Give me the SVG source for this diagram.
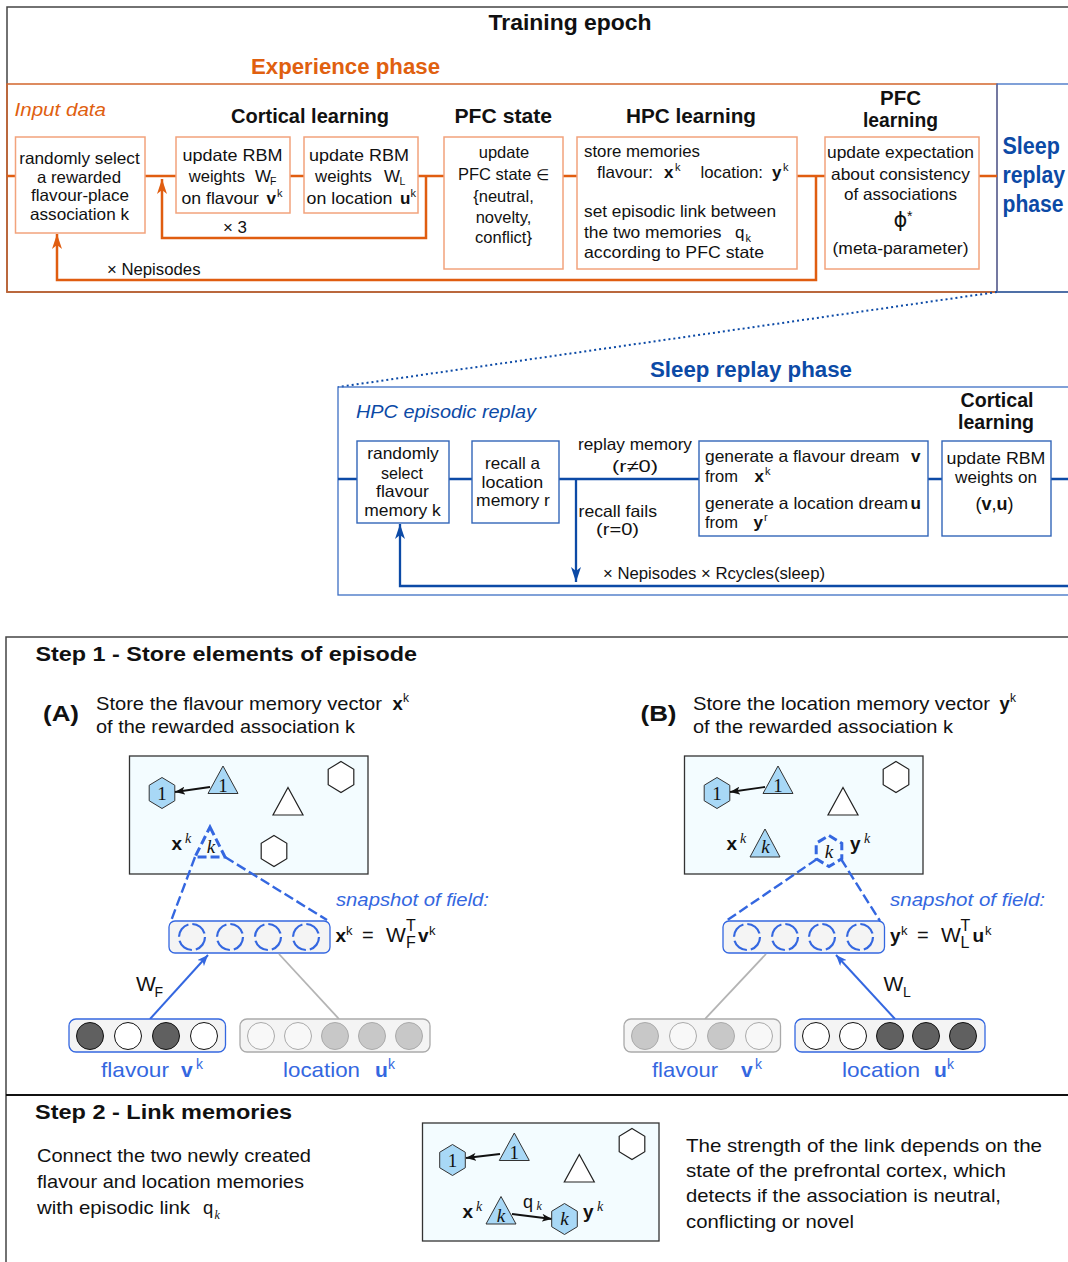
<svg xmlns="http://www.w3.org/2000/svg" width="1068" height="1262" viewBox="0 0 1068 1262">
<defs>
<style>
text{font-family:"Liberation Sans",Arial,sans-serif;fill:#111}
.b{font-weight:bold}
.i{font-style:italic}
.mi{font-family:"Liberation Serif","Times New Roman",serif;font-style:italic}
.mr{font-family:"Liberation Serif","Times New Roman",serif}
.or{fill:#e0600f}
.db{fill:#0c4aa6}
.fb{fill:#3467e0}
.c{text-anchor:middle}
.bx{font-size:16.5px}
.frame{fill:none;stroke:#444;stroke-width:1.5}
.expbox{fill:none;stroke:#d2652d;stroke-width:1.5}
.onode{fill:#fff;stroke:#f2a37c;stroke-width:1.5}
.ocon{fill:none;stroke:#e05d10;stroke-width:2.5}
.sbox{fill:none;stroke:#3d6fc4;stroke-width:1.3}
.bnode{fill:#fff;stroke:#3265b8;stroke-width:1.4}
.bcon{fill:none;stroke:#0c4aa6;stroke-width:2.3}
.field{fill:#f3fcff;stroke:#333;stroke-width:1.3}
.mem{fill:#a8d8f6;stroke:#333;stroke-width:1}
.emp{fill:#fff;stroke:#222;stroke-width:1.2}
.dsh{fill:none;stroke:#3467e0;stroke-width:2.4;stroke-dasharray:10 4}
.dshs{fill:none;stroke:#3467e0;stroke-width:3;stroke-dasharray:9 4}
.lay{fill:#f4f4f4;stroke-width:1.3}
.lb{stroke:#3467e0}
.lg{stroke:#aaa}
.un{stroke:#111;stroke-width:1}
.ug{stroke:#aaa;stroke-width:1}
.on{fill:#606060}
.off{fill:#fff}
.gon{fill:#c8c8c8}
.goff{fill:#f8f8f8}
.hid{fill:none;stroke:#3467e0;stroke-width:2.2;stroke-dasharray:16.4 4}
.farrow{fill:none;stroke:#3467e0;stroke-width:2}
.gline{fill:none;stroke:#b4b4b4;stroke-width:1.8}
.karrow{fill:none;stroke:#111;stroke-width:1.8}
</style>
<path id="hex" d="M0,-15.5 L12.8,-7.75 L12.8,7.75 L0,15.5 L-12.8,7.75 L-12.8,-7.75 Z"/>
<path id="tri" d="M0,0 L15,27.5 L-15,27.5 Z"/>
<marker id="ahO" markerUnits="userSpaceOnUse" viewBox="0 0 15 10" markerWidth="15" markerHeight="10" refX="15" refY="5" orient="auto">
<path d="M0,0 L15,5 L0,10 L4,5 Z" fill="#e05d10"/>
</marker>
<marker id="ahB" markerUnits="userSpaceOnUse" viewBox="0 0 15 10" markerWidth="15" markerHeight="10" refX="15" refY="5" orient="auto">
<path d="M0,0 L15,5 L0,10 L4,5 Z" fill="#0c4aa6"/>
</marker>
<marker id="ahF" markerUnits="userSpaceOnUse" viewBox="0 0 11 9" markerWidth="11" markerHeight="9" refX="11" refY="4.5" orient="auto">
<path d="M0,0 L11,4.5 L0,9 L3,4.5 Z" fill="#3467e0"/>
</marker>
<marker id="ahK" markerUnits="userSpaceOnUse" viewBox="0 0 10 8" markerWidth="10" markerHeight="8" refX="10" refY="4" orient="auto">
<path d="M0,0 L10,4 L0,8 L2.5,4 Z" fill="#111"/>
</marker>
</defs>

<rect width="1068" height="1262" fill="#fff"/>

<!-- frames -->
<g id="frames">
<rect class="frame" x="7" y="7" width="1080" height="285"/>
<rect class="expbox" x="7" y="84" width="990" height="208"/>
<rect class="sbox" x="997" y="84" width="90" height="208"/>
<path d="M997,292 L338,387" fill="none" stroke="#0c4aa6" stroke-width="2" stroke-dasharray="2 3"/>
<rect class="sbox" x="338" y="387" width="750" height="208"/>
<path class="frame" d="M6,1262 V637 H1075"/>
<path d="M6,1095 H1075" fill="none" stroke="#111" stroke-width="2"/>
</g>

<!-- titles -->
<g id="titles">
<text class="b c" x="570" y="30" font-size="22" textLength="163" lengthAdjust="spacingAndGlyphs">Training epoch</text>
<text class="b c or" x="345.5" y="74" font-size="22" textLength="189" lengthAdjust="spacingAndGlyphs">Experience phase</text>
<text class="i or" x="14.5" y="116" font-size="19" textLength="91.5" lengthAdjust="spacingAndGlyphs">Input data</text>
<text class="b" x="231" y="123" font-size="21" textLength="158" lengthAdjust="spacingAndGlyphs">Cortical learning</text>
<text class="b" x="454.5" y="123" font-size="21" textLength="97.5" lengthAdjust="spacingAndGlyphs">PFC state</text>
<text class="b" x="626" y="123" font-size="21" textLength="130" lengthAdjust="spacingAndGlyphs">HPC learning</text>
<text class="b c" x="900.5" y="105" font-size="21" textLength="41" lengthAdjust="spacingAndGlyphs">PFC</text>
<text class="b c" x="900.5" y="127" font-size="21" textLength="75" lengthAdjust="spacingAndGlyphs">learning</text>
<text class="b db" x="1002.5" y="154" font-size="23" textLength="57.5" lengthAdjust="spacingAndGlyphs">Sleep</text>
<text class="b db" x="1002.5" y="183" font-size="23" textLength="62.5" lengthAdjust="spacingAndGlyphs">replay</text>
<text class="b db" x="1002.5" y="212" font-size="23" textLength="61" lengthAdjust="spacingAndGlyphs">phase</text>
<text class="b c db" x="751" y="377" font-size="22" textLength="202" lengthAdjust="spacingAndGlyphs">Sleep replay phase</text>
<text class="i db" x="356" y="418" font-size="19" textLength="180" lengthAdjust="spacingAndGlyphs">HPC episodic replay</text>
<text class="b c" x="997" y="407" font-size="20" textLength="73" lengthAdjust="spacingAndGlyphs">Cortical</text>
<text class="b c" x="996" y="429" font-size="20" textLength="76" lengthAdjust="spacingAndGlyphs">learning</text>
</g>

<!-- connectors -->
<g id="connectors">
<path class="ocon" d="M7,176 H15.5 M145,176 H176 M290,176 H304 M418,176 H444 M563,176 H577 M797,176 H825 M979,176 H997"/>
<path class="ocon" d="M426,176 V238 H162 V179" marker-end="url(#ahO)"/>
<path class="ocon" d="M816,176 V280 H57 V234" marker-end="url(#ahO)"/>
<text x="223" y="233" font-size="16.5" textLength="24" lengthAdjust="spacingAndGlyphs">× 3</text>
<text x="107" y="275" font-size="16.5" textLength="93.5" lengthAdjust="spacingAndGlyphs">× Nepisodes</text>

<path class="bcon" d="M338,479 H357 M449,479 H472 M559,479 H699 M928,479 H942 M1051,479 H1075"/>
<path class="bcon" d="M576,479 V582" marker-end="url(#ahB)"/>
<path class="bcon" d="M1075,586 H400 V524" marker-end="url(#ahB)"/>
<text class="c" x="635" y="450" font-size="16.5" textLength="114" lengthAdjust="spacingAndGlyphs">replay memory</text>
<text class="c" x="635" y="472" font-size="16.5" textLength="46" lengthAdjust="spacingAndGlyphs">(r≠0)</text>
<text x="578.5" y="517" font-size="16.5" textLength="78.5" lengthAdjust="spacingAndGlyphs">recall fails</text>
<text x="596" y="535" font-size="16.5" textLength="43" lengthAdjust="spacingAndGlyphs">(r=0)</text>
<text x="603" y="579" font-size="16.5" textLength="222" lengthAdjust="spacingAndGlyphs">× Nepisodes × Rcycles(sleep)</text>
</g>

<!-- experience phase nodes -->
<g id="select-association">
<rect class="onode" x="15.5" y="137" width="129.5" height="96"/>
<text class="bx c" x="79.5" y="164" textLength="120.5" lengthAdjust="spacingAndGlyphs">randomly select</text>
<text class="bx c" x="79" y="183" textLength="84" lengthAdjust="spacingAndGlyphs">a rewarded</text>
<text class="bx c" x="80" y="201" textLength="98" lengthAdjust="spacingAndGlyphs">flavour-place</text>
<text class="bx c" x="79.5" y="220" textLength="99" lengthAdjust="spacingAndGlyphs">association k</text>
</g>
<g id="rbm-flavour">
<rect class="onode" x="176" y="137" width="114" height="76"/>
<text class="bx" x="182.5" y="161" textLength="100" lengthAdjust="spacingAndGlyphs">update RBM</text>
<text class="bx" x="188.7" y="182" textLength="56.3" lengthAdjust="spacingAndGlyphs">weights</text>
<text x="255" y="182" font-size="17">W</text>
<text x="270" y="185" font-size="10.5">F</text>
<text class="bx" x="181.5" y="204" textLength="77.5" lengthAdjust="spacingAndGlyphs">on flavour</text>
<text class="b" x="266.5" y="204" font-size="17">v</text>
<text x="277" y="197" font-size="11">k</text>
</g>
<g id="rbm-location">
<rect class="onode" x="304" y="137" width="114" height="76"/>
<text class="bx" x="309" y="161" textLength="100" lengthAdjust="spacingAndGlyphs">update RBM</text>
<text class="bx" x="315" y="182" textLength="57" lengthAdjust="spacingAndGlyphs">weights</text>
<text x="384" y="182" font-size="17">W</text>
<text x="399.5" y="185" font-size="10.5">L</text>
<text class="bx" x="306.5" y="204" textLength="86" lengthAdjust="spacingAndGlyphs">on location</text>
<text class="b" x="400" y="204" font-size="17">u</text>
<text x="410.5" y="197" font-size="11">k</text>
</g>
<g id="pfc-state">
<rect class="onode" x="444" y="137" width="119" height="132"/>
<text class="bx c" x="504" y="158">update</text>
<text class="bx c" x="503.5" y="180">PFC state <tspan font-family="DejaVu Sans,sans-serif" font-size="15">∈</tspan></text>
<text class="bx c" x="503.5" y="202">{neutral,</text>
<text class="bx c" x="503.5" y="223">novelty,</text>
<text class="bx c" x="503.5" y="243">conflict}</text>
</g>
<g id="hpc-learning">
<rect class="onode" x="577" y="137" width="220" height="132"/>
<text class="bx" x="584" y="157" textLength="116" lengthAdjust="spacingAndGlyphs">store memories</text>
<text class="bx" x="597" y="178" textLength="56" lengthAdjust="spacingAndGlyphs">flavour:</text>
<text class="b" x="664" y="178" font-size="17">x</text>
<text x="675" y="170.5" font-size="11">k</text>
<text class="bx" x="700.5" y="178" textLength="62.5" lengthAdjust="spacingAndGlyphs">location:</text>
<text class="b" x="772" y="178" font-size="17">y</text>
<text x="783" y="170.5" font-size="11">k</text>
<text class="bx" x="584" y="217" textLength="192" lengthAdjust="spacingAndGlyphs">set episodic link between</text>
<text class="bx" x="584" y="237.5" textLength="137.5" lengthAdjust="spacingAndGlyphs">the two memories</text>
<text x="735" y="237.5" font-size="17">q</text>
<text x="745.5" y="242" font-size="11">k</text>
<text class="bx" x="584" y="258" textLength="180" lengthAdjust="spacingAndGlyphs">according to PFC state</text>
</g>
<g id="pfc-learning">
<rect class="onode" x="825" y="137" width="154" height="132"/>
<text class="bx c" x="900.5" y="158" textLength="147" lengthAdjust="spacingAndGlyphs">update expectation</text>
<text class="bx c" x="900.5" y="179.5" textLength="139" lengthAdjust="spacingAndGlyphs">about consistency</text>
<text class="bx c" x="900.5" y="199.5" textLength="113" lengthAdjust="spacingAndGlyphs">of associations</text>
<text x="893.5" y="227" font-size="21" style="font-family:'DejaVu Sans',sans-serif">ϕ</text>
<text x="907" y="221" font-size="14">*</text>
<text class="bx c" x="900.5" y="254" textLength="136" lengthAdjust="spacingAndGlyphs">(meta-parameter)</text>
</g>

<!-- sleep replay nodes -->
<g id="select-flavour-memory">
<rect class="bnode" x="357" y="441" width="92" height="82"/>
<text class="bx c" x="403" y="459" textLength="71.5" lengthAdjust="spacingAndGlyphs">randomly</text>
<text class="bx c" x="402" y="478.5" textLength="42" lengthAdjust="spacingAndGlyphs">select</text>
<text class="bx c" x="402.5" y="497" textLength="53" lengthAdjust="spacingAndGlyphs">flavour</text>
<text class="bx c" x="402.5" y="515.5" textLength="76.6" lengthAdjust="spacingAndGlyphs">memory k</text>
</g>
<g id="recall-location">
<rect class="bnode" x="472" y="441" width="87" height="82"/>
<text class="bx c" x="512.5" y="468.5" textLength="55" lengthAdjust="spacingAndGlyphs">recall a</text>
<text class="bx c" x="512.3" y="487.5" textLength="61.6" lengthAdjust="spacingAndGlyphs">location</text>
<text class="bx c" x="513" y="506" textLength="73.9" lengthAdjust="spacingAndGlyphs">memory r</text>
</g>
<g id="generate-dreams">
<rect class="bnode" x="699" y="441" width="229" height="95"/>
<text class="bx" x="705" y="462" textLength="194.4" lengthAdjust="spacingAndGlyphs">generate a flavour dream</text>
<text class="b" x="911" y="462" font-size="17">v</text>
<text class="bx" x="705" y="481.5">from</text>
<text class="b" x="754.5" y="481.5" font-size="17">x</text>
<text x="765" y="474.5" font-size="11">k</text>
<text class="bx" x="705" y="509" textLength="203" lengthAdjust="spacingAndGlyphs">generate a location dream</text>
<text class="b" x="910.5" y="509" font-size="17">u</text>
<text class="bx" x="705" y="528">from</text>
<text class="b" x="753.5" y="528" font-size="17">y</text>
<text x="764" y="521" font-size="11">r</text>
</g>
<g id="sleep-rbm">
<rect class="bnode" x="942" y="441" width="109" height="95"/>
<text class="bx c" x="996" y="464" textLength="98.8" lengthAdjust="spacingAndGlyphs">update RBM</text>
<text class="bx c" x="996" y="482.5" textLength="82" lengthAdjust="spacingAndGlyphs">weights on</text>
<text class="c" x="994.5" y="510" font-size="18">(<tspan font-weight="bold">v</tspan>,<tspan font-weight="bold">u</tspan>)</text>
</g>

<!-- step 1 -->
<g id="step1-text">
<text class="b" x="35.5" y="661" font-size="21" textLength="381.5" lengthAdjust="spacingAndGlyphs">Step 1 - Store elements of episode</text>
<text class="b" x="43" y="721" font-size="22" textLength="36" lengthAdjust="spacingAndGlyphs">(A)</text>
<text x="96" y="710" font-size="18.5" textLength="286" lengthAdjust="spacingAndGlyphs">Store the flavour memory vector</text>
<text class="b" x="392.5" y="710" font-size="18.5">x</text>
<text x="403" y="702" font-size="12">k</text>
<text x="96" y="733" font-size="18.5" textLength="259" lengthAdjust="spacingAndGlyphs">of the rewarded association k</text>
<text class="b" x="640.5" y="721" font-size="22" textLength="36" lengthAdjust="spacingAndGlyphs">(B)</text>
<text x="693" y="710" font-size="18.5" textLength="297" lengthAdjust="spacingAndGlyphs">Store the location memory vector</text>
<text class="b" x="999.5" y="710" font-size="18.5">y</text>
<text x="1010" y="702" font-size="12">k</text>
<text x="693" y="733" font-size="18.5" textLength="260" lengthAdjust="spacingAndGlyphs">of the rewarded association k</text>
</g>

<!-- field A: flavour memory -->
<g id="field-a">
<rect class="field" x="129.5" y="756" width="238.5" height="118"/>
<use href="#hex" class="mem" x="162" y="793"/>
<text class="mr c" x="162" y="800" font-size="19">1</text>
<use href="#tri" class="mem" x="223" y="766"/>
<text class="mr c" x="223" y="792" font-size="19">1</text>
<path class="karrow" d="M210,787 L175,792" marker-end="url(#ahK)"/>
<use href="#tri" class="emp" x="288" y="787.5"/>
<use href="#hex" class="emp" x="341" y="777"/>
<use href="#hex" class="emp" x="274" y="851"/>
<text class="b" x="171.5" y="850" font-size="19">x</text>
<text class="mi" x="185" y="843" font-size="14">k</text>
<path class="dshs" d="M210,827 L225,857 L195,857 Z"/>
<text class="mi c" x="211" y="853" font-size="19">k</text>
</g>
<g id="hidden-a">
<path class="dsh" d="M195,857 L171,921 M225,857 L327,920"/>
<rect class="lay lb" x="169" y="921" width="161" height="32" rx="6"/>
<circle class="hid" cx="192" cy="937" r="13"/>
<circle class="hid" cx="230" cy="937" r="13"/>
<circle class="hid" cx="268" cy="937" r="13"/>
<circle class="hid" cx="306" cy="937" r="13"/>
<text class="i fb" x="336" y="906" font-size="18" textLength="153" lengthAdjust="spacingAndGlyphs">snapshot of field:</text>
<text class="b" x="335.5" y="942" font-size="19">x</text>
<text x="346" y="935" font-size="13">k</text>
<text x="362" y="942" font-size="20">=</text>
<text x="386" y="942" font-size="21">W</text>
<text x="406" y="931" font-size="16">T</text>
<text x="406" y="948" font-size="16">F</text>
<text class="b" x="418" y="942" font-size="19">v</text>
<text x="429" y="935" font-size="13">k</text>
</g>
<g id="input-a">
<path class="farrow" d="M150,1019 L208,955" marker-end="url(#ahF)"/>
<path class="gline" d="M279,954 L339,1019"/>
<text x="136" y="991" font-size="21">W</text>
<text x="154.5" y="997" font-size="14">F</text>
<rect class="lay lb" x="69" y="1019" width="156.5" height="33" rx="7"/>
<circle class="on un" cx="90" cy="1036" r="13.5"/>
<circle class="off un" cx="128" cy="1036" r="13.5"/>
<circle class="on un" cx="166" cy="1036" r="13.5"/>
<circle class="off un" cx="204" cy="1036" r="13.5"/>
<rect class="lay lg" x="240" y="1019" width="190" height="33" rx="7"/>
<circle class="goff ug" cx="261" cy="1036" r="13.5"/>
<circle class="goff ug" cx="298" cy="1036" r="13.5"/>
<circle class="gon ug" cx="335" cy="1036" r="13.5"/>
<circle class="gon ug" cx="372" cy="1036" r="13.5"/>
<circle class="gon ug" cx="409" cy="1036" r="13.5"/>
<text class="fb" x="101" y="1077" font-size="21" textLength="68" lengthAdjust="spacingAndGlyphs">flavour</text>
<text class="b fb" x="181" y="1077" font-size="21">v</text>
<text class="fb" x="196" y="1069" font-size="14">k</text>
<text class="fb" x="283" y="1077" font-size="21" textLength="77" lengthAdjust="spacingAndGlyphs">location</text>
<text class="b fb" x="375" y="1077" font-size="21">u</text>
<text class="fb" x="388" y="1069" font-size="14">k</text>
</g>

<!-- field B: location memory -->
<g id="field-b">
<rect class="field" x="684.5" y="756" width="238.5" height="118"/>
<use href="#hex" class="mem" x="717" y="793"/>
<text class="mr c" x="717" y="800" font-size="19">1</text>
<use href="#tri" class="mem" x="778" y="766"/>
<text class="mr c" x="778" y="792" font-size="19">1</text>
<path class="karrow" d="M765,787 L730,792" marker-end="url(#ahK)"/>
<use href="#tri" class="emp" x="843" y="787.5"/>
<use href="#hex" class="emp" x="896" y="777"/>
<text class="b" x="726.5" y="850" font-size="19">x</text>
<text class="mi" x="740" y="843" font-size="14">k</text>
<path class="mem" d="M765,829 L780,857 L750,857 Z"/>
<text class="mi c" x="765.5" y="853" font-size="19">k</text>
<use href="#hex" class="dshs" x="829" y="851"/>
<text class="mi c" x="829" y="858" font-size="19">k</text>
<text class="b" x="850" y="850" font-size="19">y</text>
<text class="mi" x="864" y="843" font-size="14">k</text>
</g>
<g id="hidden-b">
<path class="dsh" d="M817,859 L726,921 M841,859 L880,921"/>
<rect class="lay lb" x="723" y="921" width="161.5" height="32" rx="6"/>
<circle class="hid" cx="747" cy="937" r="13"/>
<circle class="hid" cx="785" cy="937" r="13"/>
<circle class="hid" cx="822" cy="937" r="13"/>
<circle class="hid" cx="860" cy="937" r="13"/>
<text class="i fb" x="890" y="906" font-size="18" textLength="155" lengthAdjust="spacingAndGlyphs">snapshot of field:</text>
<text class="b" x="890" y="942" font-size="19">y</text>
<text x="901" y="935" font-size="13">k</text>
<text x="917" y="942" font-size="20">=</text>
<text x="941" y="942" font-size="21">W</text>
<text x="960.5" y="931" font-size="16">T</text>
<text x="960.5" y="948" font-size="16">L</text>
<text class="b" x="972.5" y="942" font-size="19">u</text>
<text x="985" y="935" font-size="13">k</text>
</g>
<g id="input-b">
<path class="gline" d="M766,954 L705,1019"/>
<path class="farrow" d="M895,1019 L836,955" marker-end="url(#ahF)"/>
<text x="883.5" y="991" font-size="21">W</text>
<text x="903" y="997" font-size="14">L</text>
<rect class="lay lg" x="624" y="1019" width="156.5" height="33" rx="7"/>
<circle class="gon ug" cx="645" cy="1036" r="13.5"/>
<circle class="goff ug" cx="683" cy="1036" r="13.5"/>
<circle class="gon ug" cx="721" cy="1036" r="13.5"/>
<circle class="goff ug" cx="759" cy="1036" r="13.5"/>
<rect class="lay lb" x="795" y="1019" width="190" height="33" rx="7"/>
<circle class="off un" cx="816" cy="1036" r="13.5"/>
<circle class="off un" cx="853" cy="1036" r="13.5"/>
<circle class="on un" cx="890" cy="1036" r="13.5"/>
<circle class="on un" cx="926" cy="1036" r="13.5"/>
<circle class="on un" cx="963" cy="1036" r="13.5"/>
<text class="fb" x="652" y="1077" font-size="21" textLength="66" lengthAdjust="spacingAndGlyphs">flavour</text>
<text class="b fb" x="741" y="1077" font-size="21">v</text>
<text class="fb" x="755" y="1069" font-size="14">k</text>
<text class="fb" x="842" y="1077" font-size="21" textLength="78" lengthAdjust="spacingAndGlyphs">location</text>
<text class="b fb" x="934" y="1077" font-size="21">u</text>
<text class="fb" x="947" y="1069" font-size="14">k</text>
</g>

<!-- step 2 -->
<g id="step2-text">
<text class="b" x="35" y="1119" font-size="21" textLength="257" lengthAdjust="spacingAndGlyphs">Step 2 - Link memories</text>
<text x="37" y="1162" font-size="18.5" textLength="274" lengthAdjust="spacingAndGlyphs">Connect the two newly created</text>
<text x="37" y="1188" font-size="18.5" textLength="267" lengthAdjust="spacingAndGlyphs">flavour and location memories</text>
<text x="37" y="1214" font-size="18.5" textLength="153" lengthAdjust="spacingAndGlyphs">with episodic link</text>
<text x="203" y="1214" font-size="18.5">q</text>
<text class="mi" x="214.5" y="1219" font-size="12">k</text>
<text x="686" y="1152" font-size="18.5" textLength="356" lengthAdjust="spacingAndGlyphs">The strength of the link depends on the</text>
<text x="686" y="1177" font-size="18.5" textLength="320" lengthAdjust="spacingAndGlyphs">state of the prefrontal cortex, which</text>
<text x="686" y="1202" font-size="18.5" textLength="315" lengthAdjust="spacingAndGlyphs">detects if the association is neutral,</text>
<text x="686" y="1228" font-size="18.5" textLength="168" lengthAdjust="spacingAndGlyphs">conflicting or novel</text>
</g>
<g id="field-linked">
<rect class="field" x="422.5" y="1123" width="236.5" height="118"/>
<use href="#hex" class="mem" x="452.5" y="1160"/>
<text class="mr c" x="452.5" y="1167" font-size="19">1</text>
<use href="#tri" class="mem" x="514.3" y="1133"/>
<text class="mr c" x="514.3" y="1159" font-size="19">1</text>
<path class="karrow" d="M500,1154 L466,1158" marker-end="url(#ahK)"/>
<use href="#tri" class="emp" x="579.3" y="1154.5"/>
<use href="#hex" class="emp" x="632" y="1144"/>
<text class="b" x="462.5" y="1218" font-size="19">x</text>
<text class="mi" x="476" y="1211" font-size="14">k</text>
<use href="#tri" class="mem" x="501" y="1196.5"/>
<text class="mi c" x="501" y="1222" font-size="19">k</text>
<path class="karrow" d="M512,1214 L552,1219" marker-end="url(#ahK)"/>
<text x="523" y="1208" font-size="18">q</text>
<text class="mi" x="536.5" y="1210" font-size="12">k</text>
<use href="#hex" class="mem" x="564.5" y="1219"/>
<text class="mi c" x="564.5" y="1225" font-size="19">k</text>
<text class="b" x="583" y="1218" font-size="19">y</text>
<text class="mi" x="597" y="1211" font-size="14">k</text>
</g>
</svg>
